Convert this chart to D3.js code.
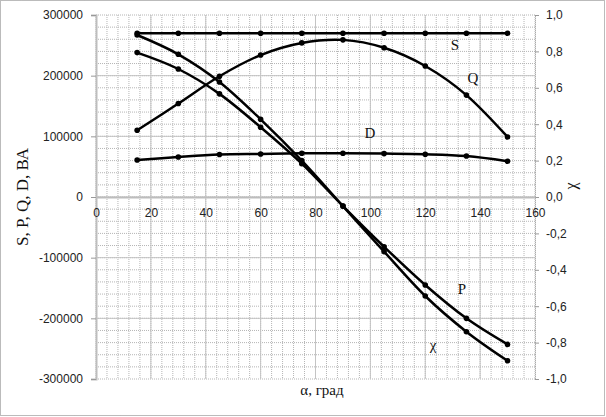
<!DOCTYPE html>
<html>
<head>
<meta charset="utf-8">
<script src="https://cdn.jsdelivr.net/npm/d3@7"></script>
<style>
  body { margin: 0; background: #fff; }
  .tick text { font-family: "Liberation Sans", Arial, sans-serif; font-size: 12px; fill: #222; }
  .lbl { font-family: "Liberation Serif", "Times New Roman", serif; fill: #111; }
</style>
</head>
<body>
<div id="chart"></div>
<script>
// angle, degrees
const angles = [15, 30, 45, 60, 75, 90, 105, 120, 135, 150];
// powers, VA (left axis)
const sValues = [270000, 270000, 270000, 270000, 270000, 270000, 270000, 270000, 270000, 270000];
const qValues = [110000, 154000, 199000, 234000, 254000, 259000, 246000, 216000, 168000, 99000];
const dValues = [61000, 66000, 70000, 71000, 72000, 72000, 71500, 70500, 67500, 59000];
const pValues = [238000, 211000, 170000, 115000, 55000, -15000, -82000, -145000, -200000, -243000];
// chi (right axis)
const chiValues = [0.89, 0.784, 0.632, 0.427, 0.2, -0.05, -0.30, -0.544, -0.74, -0.90];

const xTicks = [0, 20, 40, 60, 80, 100, 120, 140, 160];
const leftTicks = [-300000, -200000, -100000, 0, 100000, 200000, 300000];
const rightTicks = [-1, -0.8, -0.6, -0.4, -0.2, 0, 0.2, 0.4, 0.6, 0.8, 1];

const W = 606, H = 417;
const plot = {left: 96, right: 535, top: 15, bottom: 379};

const svg = d3.select("#chart").append("svg")
    .attr("width", W)
    .attr("height", H);

// chart area border
svg.append("rect")
    .attr("x", 0.5).attr("y", 0.5)
    .attr("width", W - 2).attr("height", H - 2)
    .attr("fill", "#fff")
    .attr("stroke", "#777")
    .attr("stroke-dasharray", "1,1");

const x = d3.scaleLinear().domain([0, 160]).range([plot.left, plot.right]);
const yL = d3.scaleLinear().domain([-300000, 300000]).range([plot.bottom, plot.top]);
const yR = d3.scaleLinear().domain([-1, 1]).range([plot.bottom, plot.top]);

// grid: minor dotted, major solid
const grid = svg.append("g");
grid.selectAll(".vminor")
    .data(d3.range(0, 161, 4))
    .join("line")
    .attr("x1", d => x(d)).attr("x2", d => x(d))
    .attr("y1", plot.top).attr("y2", plot.bottom)
    .attr("stroke", "#b5b5b5")
    .attr("stroke-dasharray", "1,1");
grid.selectAll(".hminor")
    .data(d3.range(-300000, 300001, 20000))
    .join("line")
    .attr("x1", plot.left).attr("x2", plot.right)
    .attr("y1", d => yL(d)).attr("y2", d => yL(d))
    .attr("stroke", "#b5b5b5")
    .attr("stroke-dasharray", "1,1");
grid.selectAll(".vmajor")
    .data(xTicks.slice(1, -1))
    .join("line")
    .attr("x1", d => x(d)).attr("x2", d => x(d))
    .attr("y1", plot.top).attr("y2", plot.bottom)
    .attr("stroke", "#c4c4c4");
grid.selectAll(".hmajor")
    .data(leftTicks.slice(1, -1))
    .join("line")
    .attr("x1", plot.left).attr("x2", plot.right)
    .attr("y1", d => yL(d)).attr("y2", d => yL(d))
    .attr("stroke", "#c4c4c4");

// axes
const leftAxis = svg.append("g")
    .attr("transform", `translate(${plot.left},0)`)
    .call(d3.axisLeft(yL).tickValues(leftTicks).tickSize(5).tickPadding(8).tickFormat(d => String(d)));
leftAxis.select(".domain").attr("stroke", "#bdbdbd").attr("stroke-width", 2);
leftAxis.selectAll(".tick line").attr("stroke", "#999");

const rightAxis = svg.append("g")
    .attr("transform", `translate(${plot.right},0)`)
    .call(d3.axisRight(yR).tickValues(rightTicks).tickSize(4).tickPadding(7)
        .tickFormat(d => d.toFixed(1).replace(".", ",").replace("−", "-")));
rightAxis.select(".domain").attr("stroke", "#aaa").attr("stroke-dasharray", "1,1");
rightAxis.selectAll(".tick line").attr("stroke", "#999");

const xAxis = svg.append("g")
    .attr("transform", `translate(0,${yL(0)})`)
    .call(d3.axisBottom(x).tickValues(xTicks).tickSize(0).tickPadding(11));
xAxis.select(".domain").attr("stroke", "#bdbdbd").attr("stroke-width", 2);

// series
const line = (ys, scale) => d3.line()
    .x((d, i) => x(angles[i]))
    .y(d => scale(d))
    .curve(d3.curveCardinal.tension(0))(ys);

const series = [
  {vals: sValues, scale: yL},
  {vals: qValues, scale: yL},
  {vals: dValues, scale: yL},
  {vals: pValues, scale: yL},
  {vals: chiValues, scale: yR}
];

series.forEach(s => {
  svg.append("path")
      .attr("d", line(s.vals, s.scale))
      .attr("fill", "none")
      .attr("stroke", "#000")
      .attr("stroke-width", 2.5);
  svg.append("g").selectAll("circle")
      .data(s.vals)
      .join("circle")
      .attr("cx", (d, i) => x(angles[i]))
      .attr("cy", d => s.scale(d))
      .attr("r", 2.8)
      .attr("fill", "#000");
});

// series labels
const labels = [
  {t: "S", x: 455, y: 50},
  {t: "Q", x: 473, y: 83},
  {t: "D", x: 370, y: 138},
  {t: "P", x: 462, y: 294},
  {t: "χ", x: 433, y: 350}
];
svg.append("g").selectAll("text")
    .data(labels)
    .join("text")
    .attr("class", "lbl")
    .attr("x", d => d.x).attr("y", d => d.y)
    .attr("text-anchor", "middle")
    .style("font-size", "15px")
    .text(d => d.t);

// axis titles
svg.append("text")
    .attr("class", "lbl")
    .attr("transform", "translate(28,197) rotate(-90)")
    .attr("text-anchor", "middle")
    .style("font-size", "17px")
    .text("S, P, Q, D, ВА");

svg.append("text")
    .attr("class", "lbl")
    .attr("transform", "translate(576,186) rotate(-90)")
    .attr("text-anchor", "middle")
    .style("font-size", "16px")
    .text("χ");

svg.append("text")
    .attr("class", "lbl")
    .attr("x", 322).attr("y", 395)
    .attr("text-anchor", "middle")
    .style("font-size", "15px")
    .text("α, град");
</script>
</body>
</html>
